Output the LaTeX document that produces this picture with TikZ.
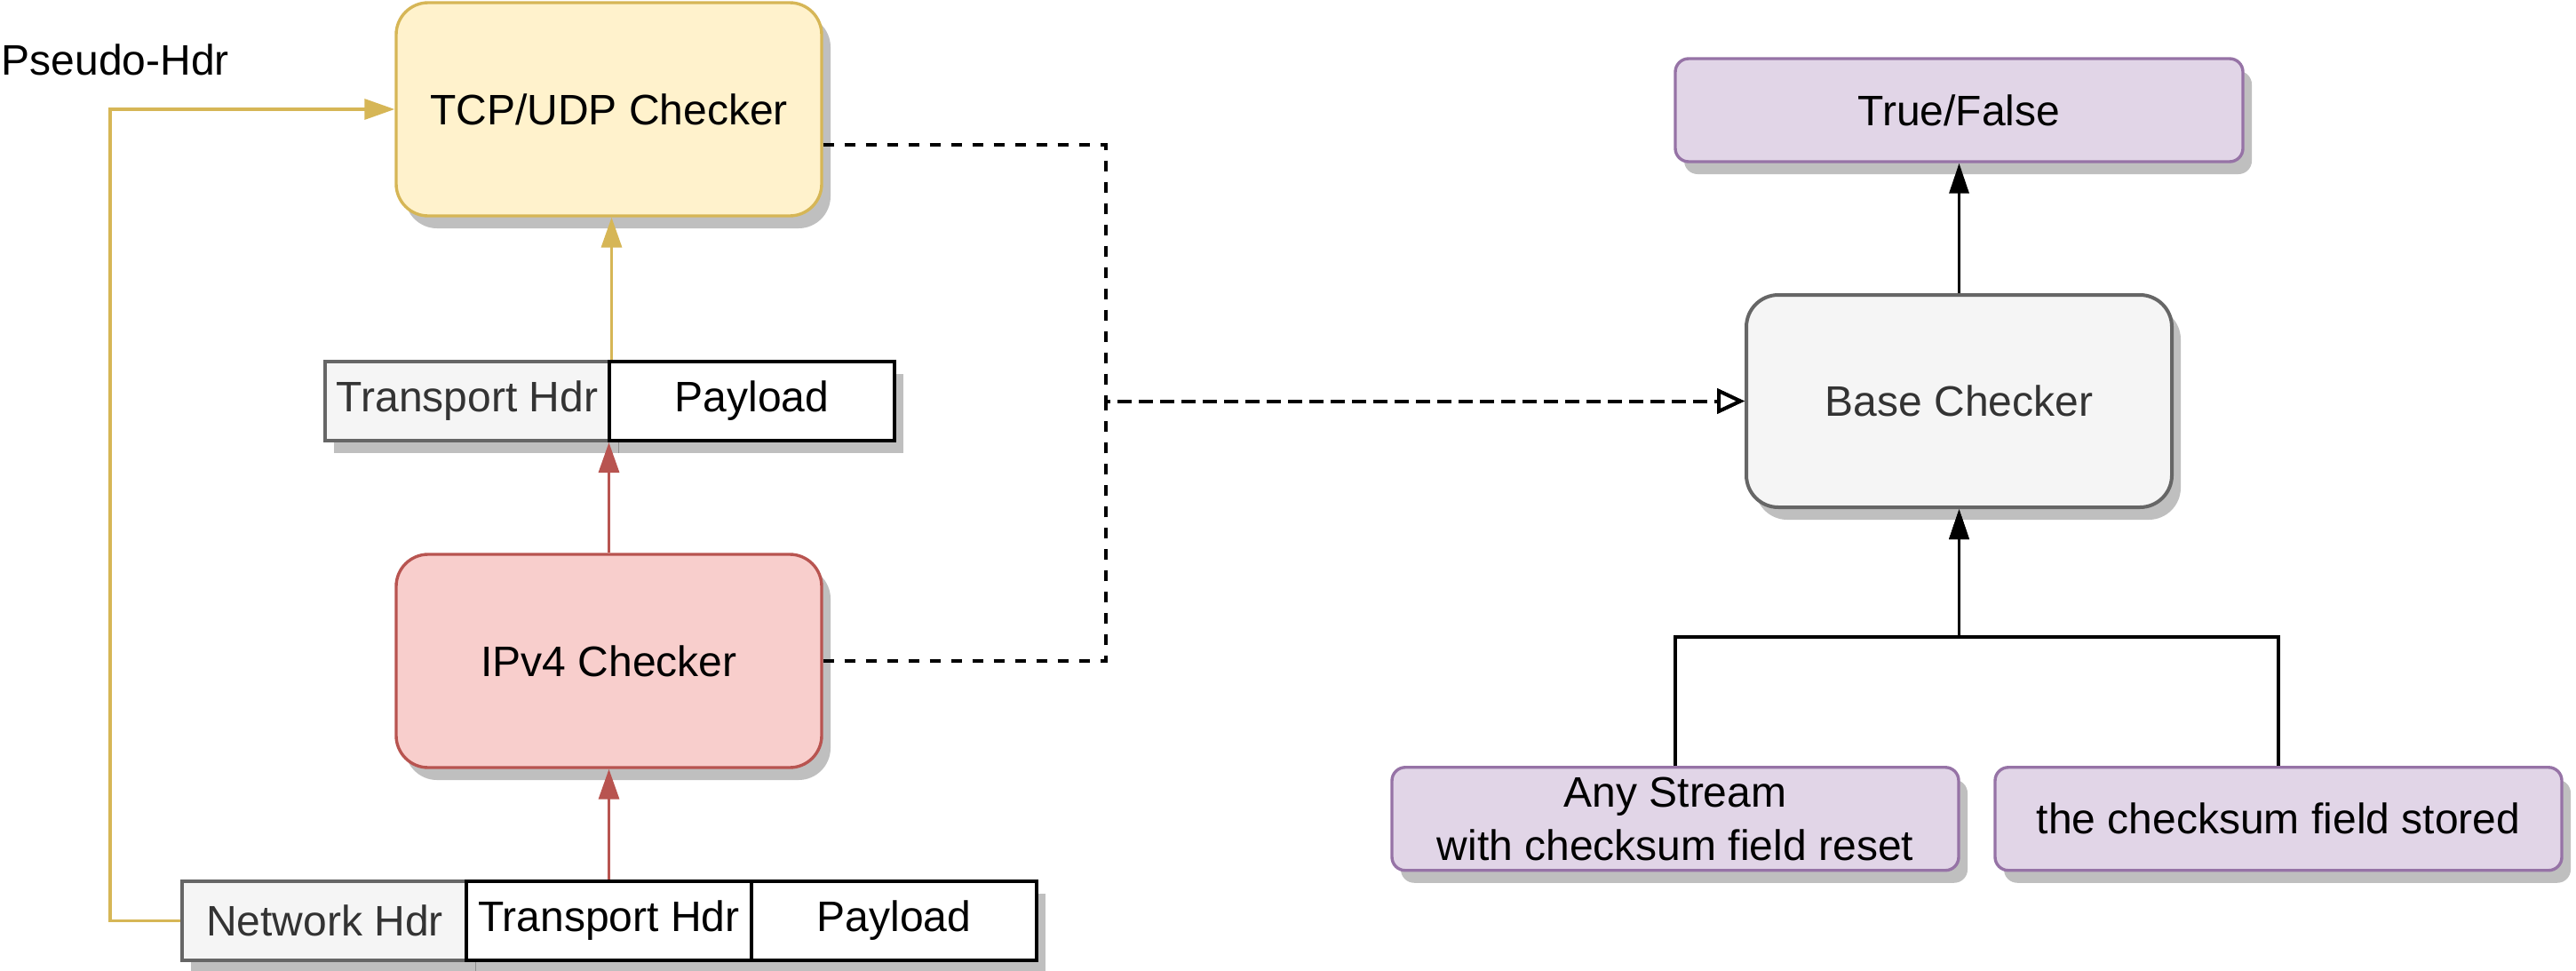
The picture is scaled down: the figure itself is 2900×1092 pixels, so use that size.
\documentclass[tikz,border=0pt]{standalone}
\usepackage{fontspec}
\setmainfont{Liberation Sans}
\usetikzlibrary{arrows.meta,shadows,calc}
\definecolor{yfill}{HTML}{FFF2CC}
\definecolor{ystroke}{HTML}{D6B656}
\definecolor{rfill}{HTML}{F8CECC}
\definecolor{rstroke}{HTML}{B85450}
\definecolor{pfill}{HTML}{E1D5E7}
\definecolor{pstroke}{HTML}{9673A6}
\definecolor{gfill}{HTML}{F5F5F5}
\definecolor{gstroke}{HTML}{666666}
\definecolor{gtext}{HTML}{333333}
\begin{document}
\begin{tikzpicture}[x=0.25pt,y=-0.25pt,
  font=\fontsize{12pt}{14.9pt}\selectfont,
  sh/.style={drop shadow={shadow xshift=2.5pt,shadow yshift=-3.5pt,fill=black,opacity=0.25}},
  dims/.style 2 args={minimum width=#1*0.25pt,minimum height=#2*0.25pt,inner sep=0pt},
  bigbox/.style={draw,rounded corners=9pt,line width=0.85pt,sh,dims={479}{240}},
  tcpbox/.style={bigbox,draw=ystroke,fill=yfill},
  ipbox/.style={bigbox,draw=rstroke,fill=rfill},
  basebox/.style={bigbox,draw=gstroke,fill=gfill,text=gtext,line width=1pt,dims={479}{239}},
  pbox/.style={draw=pstroke,fill=pfill,rounded corners=3.75pt,line width=0.85pt,sh,dims={638}{116},align=center},
  graypkt/.style={draw=gstroke,fill=gfill,text=gtext,line width=1pt,sh,dims={321}{89}},
  whitepkt/.style={draw=black,fill=white,line width=1pt,sh,dims={321}{89}},
  yline/.style={draw=ystroke,line width=0.85pt,-{Triangle[length=8.5pt,width=5.75pt]},ystroke},
  rline/.style={draw=rstroke,line width=0.85pt,-{Triangle[length=8.5pt,width=5.75pt]},rstroke},
  bline/.style={draw=black,line width=0.85pt,-{Triangle[length=8.5pt,width=5.5pt]}},
  dline/.style={draw=black,line width=1pt,dash pattern=on 3pt off 3pt,-{Triangle[open,length=7.75pt,width=7pt,fill=white]}}
]
\useasboundingbox (0,0) rectangle (2900,1092);

% left column
\node[tcpbox] (tcp) at (685.5,123) {TCP/UDP Checker};
\node[ipbox] (ipv4) at (685.5,744) {IPv4 Checker};
\node[graypkt] (thdrA) at (526,451.5) {Transport Hdr};
\node[whitepkt] (payA) at (846.5,451.5) {Payload};
\node[graypkt] (nhdr) at (365.5,1036.5) {Network Hdr};
\node[whitepkt] (thdrB) at (685.5,1036.5) {Transport Hdr};
\node[whitepkt] (payB) at (1006.5,1036.5) {Payload};
\node[anchor=base west,inner sep=0pt] (plabel) at (1,84) {Pseudo-Hdr};

% right column
\node[pbox,dims={639}{116}] (tf) at (2205.5,124) {True/False};
\node[basebox] (base) at (2205.5,451.5) {Base Checker};
\node[pbox] (any) at (1886,921.75) {Any Stream\\with checksum field reset};
\node[pbox] (stored) at (2565,921.75) {the checksum field stored};

% connectors
\coordinate (ycorner) at (124,1036.5);
\draw[yline] (nhdr.west) -- (ycorner) |- (tcp.west);
\draw[yline] (thdrA.north east) -- (thdrA.north east |- tcp.south);
\draw[rline] (ipv4.north) -- (ipv4.north |- thdrA.south);
\draw[rline] (thdrB.north) -- (ipv4.south);

\coordinate (jd) at (1245,451.5);
\draw[dline] ([yshift=-10pt]tcp.east) -| (jd) -- (base.west);
\draw[dline] (ipv4.east) -| (jd) -- (base.west);

\draw[bline] (base.north) -- (tf.south);
\coordinate (jb) at (2205.5,717);
\draw[bline] (any.north) |- (jb) -- (base.south);
\draw[bline] (stored.north) |- (jb) -- (base.south);
\end{tikzpicture}
\end{document}
